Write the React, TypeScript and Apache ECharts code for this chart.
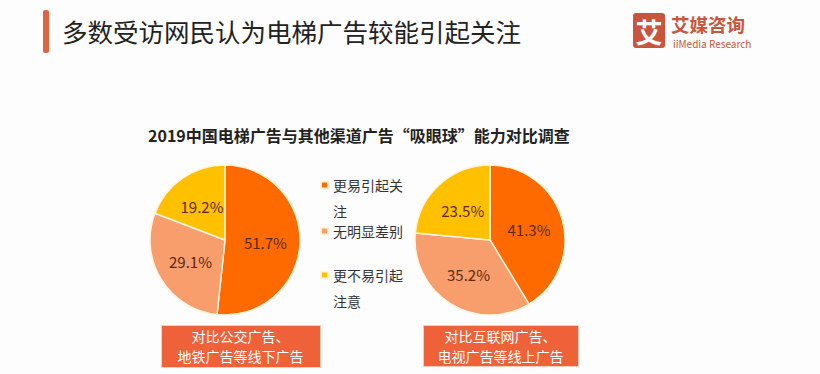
import React, { useEffect, useRef } from "react";
import * as echarts from "echarts";

const categories = ["更易引起关注", "无明显差别", "更不易引起注意"];
const legendLines = [["更易引起关", "注"], ["无明显差别"], ["更不易引起", "注意"]];
const offlineValues = [51.7, 29.1, 19.2];
const onlineValues = [41.3, 35.2, 23.5];
const boxLabels = [
  ["对比公交广告、", "地铁广告等线下广告"],
  ["对比互联网广告、", "电视广告等线上广告"],
];
const headerTitle = "多数受访网民认为电梯广告较能引起关注";
const chartTitle = "2019中国电梯广告与其他渠道广告“吸眼球”能力对比调查";

const colors = ["#FF6A00", "#F89D6C", "#FFC000"];
const FONT = "'Noto Sans CJK SC', 'Noto Sans', sans-serif";

export default function App() {
  const ref = useRef<HTMLDivElement>(null);
  useEffect(() => {
    if (!ref.current) return;
    const chart = echarts.init(ref.current, undefined, { renderer: "svg" });
    const pieBase = {
      type: "pie",
      radius: 75,
      startAngle: 90,
      clockwise: true,
      silent: true,
      itemStyle: { borderColor: "#FFF4DA", borderWidth: 1.5 },
      label: {
        show: true,
        position: "inside",
        formatter: "{c}%",
        color: "#5A2A12",
        fontSize: 15,
        fontFamily: FONT,
      },
      labelLine: { show: false },
    };
    // icon centre y for each legend entry
    const legendIconY = [185, 231, 275];
    const LH = 26;
    const legendLeft = 320;
    const boxes = [
      { x: 161, y: 325, w: 159, h: 42 },
      { x: 423, y: 325, w: 155, h: 41 },
    ];
    const boxGraphics: any[] = [];
    boxes.forEach((b, i) => {
      boxGraphics.push({
        type: "rect",
        left: b.x,
        top: b.y,
        shape: { width: b.w, height: b.h },
        style: { fill: "#EF6139", stroke: "#F6CDBB", lineWidth: 1 },
      });
      boxLabels[i].forEach((line, j) => {
        boxGraphics.push({
          type: "text",
          x: b.x + b.w / 2,
          y: b.y + 11 + j * 20,
          style: { text: line, fill: "#fff", fontSize: 14, lineHeight: 17, fontFamily: FONT, align: "center", verticalAlign: "middle" },
        });
      });
    });
    chart.setOption({
      animation: false,
      backgroundColor: "#FDFDFD",
      color: colors,
      title: [
        {
          text: headerTitle,
          left: 62,
          top: 14,
          padding: 0,
          textStyle: { fontSize: 25.5, fontWeight: "normal", color: "#222", fontFamily: FONT, lineHeight: 32 },
        },
        {
          text: chartTitle,
          left: 148,
          top: 125,
          padding: 0,
          textStyle: { fontSize: 16, fontWeight: "bold", color: "#222", fontFamily: FONT, lineHeight: 20 },
        },
      ],
      legend: categories.map((c, i) => {
        const lines = legendLines[i];
        const text = lines.length > 1 ? " \n" + lines.join("\n") : lines[0];
        const blockH = (lines.length > 1 ? 3 : 1) * LH;
        return {
          data: [c],
          left: legendLeft,
          top: legendIconY[i] - blockH / 2,
          padding: 0,
          orient: "vertical",
          icon: "rect",
          itemWidth: 7,
          itemHeight: 7,
          itemGap: 6,
          selectedMode: false,
          formatter: () => text,
          textStyle: {
            fontSize: 14,
            color: "#333",
            fontFamily: FONT,
            lineHeight: LH,
          },
        };
      }),
      series: [
        {
          ...pieBase,
          name: "线下",
          center: [225, 240],
          data: categories.map((c, i) => ({ name: c, value: offlineValues[i] })),
        },
        {
          ...pieBase,
          name: "线上",
          center: [490, 240],
          data: categories.map((c, i) => ({ name: c, value: onlineValues[i] })),
        },
      ],
      graphic: [
        { type: "rect", left: 43, top: 10, shape: { width: 6, height: 43, r: 2 }, style: { fill: "#E0643F" } },
        { type: "rect", left: 633, top: 13, shape: { width: 32, height: 35, r: 3 }, style: { fill: "#C9553F" } },
        {
          type: "text",
          x: 649,
          y: 31,
          style: { text: "艾", fill: "#fff", fontSize: 27, lineHeight: 28, fontWeight: "bold", fontFamily: FONT, align: "center", verticalAlign: "middle" },
        },
        {
          type: "text",
          x: 671,
          y: 23.5,
          style: { text: "艾媒咨询", fill: "#C9553F", fontSize: 18.5, lineHeight: 19, fontWeight: "bold", fontFamily: FONT, verticalAlign: "middle" },
        },
        {
          type: "text",
          x: 673,
          y: 43,
          style: { text: "iiMedia Research", fill: "#C9553F", fontSize: 10, lineHeight: 10, fontFamily: FONT, verticalAlign: "middle" },
        },
        ...boxGraphics,
      ],
    });
    return () => chart.dispose();
  }, []);
  return (
    <div
      ref={ref}
      style={{ position: "fixed", left: 0, top: 0, width: 820, height: 374 }}
    />
  );
}
